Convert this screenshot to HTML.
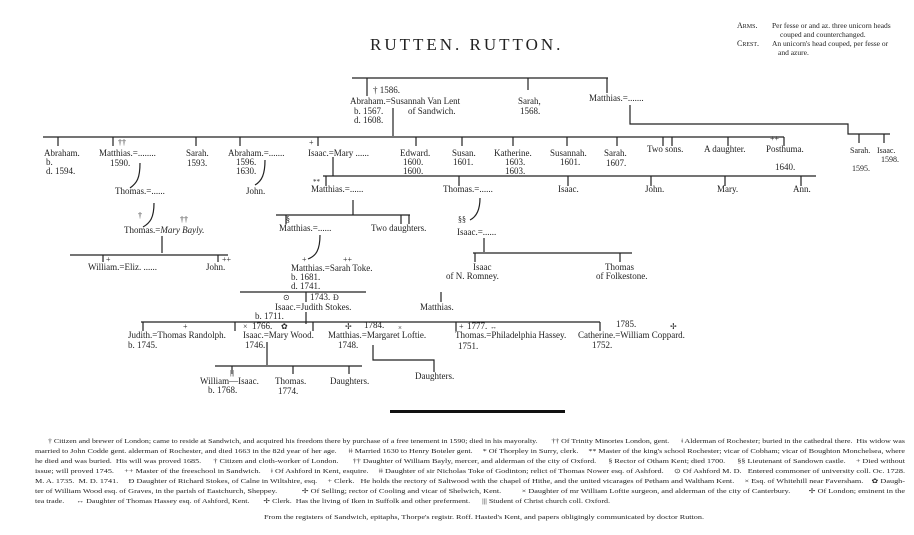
<!DOCTYPE html>
<html><head><meta charset="utf-8"><style>
html,body{margin:0;padding:0;background:#fff;}
svg{display:block;font-family:"Liberation Serif",serif;fill:#222;}
text{font-size:9px;}
.fn text{font-size:6.6px;white-space:pre;}
.sc{font-variant:small-caps;}
</style></head><body>
<svg width="914" height="535" viewBox="0 0 914 535" xmlns="http://www.w3.org/2000/svg">
<g stroke="#222" stroke-width="1.2" fill="none">
<path d="M352 78H608M367 78V96M528 78V90M607 78V93"/>
<path d="M393 108V136"/>
<path d="M43 137H784"/>
<path d="M630 105V124H848V134H890M859 134V143M884 134V143"/>
<path d="M58 137V146M113 137V146M196 137V146M240 137V146M318 137V146M416 137V146M462 137V146M513 137V146M567 137V146M617 137V146M663 137V146M672 137V146M728 137V146M784 137V146"/>
<path d="M333 157V176M323 176H816M326 176V186M459 176V186M568 176V186M651 176V186M725 176V186M801 176V186"/>
<path d="M353 200V215H276M353 215H410M286 215V224M401 215V224M409 215V224"/>
<path d="M320 235C320 250 316 256 308 259"/>
<path d="M240 292H366M306 292V302M441 292V302"/>
<path d="M306 312V324M141 322H600M143 322V331M235 322V331M313 322V331M456 322V331M600 322V331"/>
<path d="M267 342V365M215 366H362M232 366V374M293 366V374M349 366V374"/>
<path d="M373 345V360H434V372"/>
<path d="M140 163C140 178 137 183 130 188"/>
<path d="M154 203C154 218 150 223 143 227"/>
<path d="M162 236V253M70 255H228M103 255V262M218 255V262"/>
<path d="M265 160C265 174 262 181 255 185"/>
<path d="M480 198C480 210 476 217 470 220"/>
<path d="M484 238V252M473 253H632M475 253V262M620 253V262"/>
</g>
<rect x="390" y="410" width="175" height="3" fill="#111"/>
<text x="370" y="50" style="font-size:17px;letter-spacing:3px">RUTTEN. RUTTON.</text>
<g>
<text x="737" y="28" class="sc" style="font-size:8px">Arms.</text><text x="772" y="28" style="font-size:7.5px">Per fesse or and az. three unicorn heads</text>
<text x="780" y="37" style="font-size:7.5px">couped and counterchanged.</text>
<text x="737" y="46" class="sc" style="font-size:8px">Crest.</text><text x="772" y="46" style="font-size:7.5px">An unicorn's head couped, per fesse or</text>
<text x="778" y="55" style="font-size:7.5px">and azure.</text>
</g>
<text x="373" y="93">† 1586.</text>
<text x="350" y="104">Abraham.=Susannah Van Lent</text>
<text x="354" y="114">b. 1567.</text><text x="408" y="114">of Sandwich.</text>
<text x="354" y="123">d. 1608.</text>
<text x="518" y="104">Sarah,</text><text x="520" y="114">1568.</text>
<text x="589" y="101">Matthias.=.......</text>
<text x="44" y="156">Abraham.</text><text x="46" y="165">b.</text><text x="46" y="174">d. 1594.</text>
<text x="99" y="156">Matthias.=........</text><text x="110" y="166">1590.</text>
<text x="186" y="156">Sarah.</text><text x="187" y="166">1593.</text>
<text x="228" y="156">Abraham.=.......</text><text x="236" y="165">1596.</text><text x="236" y="174">1630.</text>
<text x="308" y="156">Isaac.=Mary ......</text>
<text x="400" y="156">Edward.</text><text x="403" y="165">1600.</text><text x="403" y="174">1600.</text>
<text x="452" y="156">Susan.</text><text x="453" y="165">1601.</text>
<text x="494" y="156">Katherine.</text><text x="505" y="165">1603.</text><text x="505" y="174">1603.</text>
<text x="550" y="156">Susannah.</text><text x="560" y="165">1601.</text>
<text x="604" y="156">Sarah.</text><text x="606" y="166">1607.</text>
<text x="647" y="152">Two sons.</text>
<text x="704" y="152">A daughter.</text>
<text x="766" y="152">Posthuma.</text><text x="770" y="141" style="font-size:8px">++</text>
<text x="775" y="170">1640.</text>
<text x="850" y="153" style="font-size:8px">Sarah.</text><text x="877" y="153" style="font-size:8px">Isaac.</text>
<text x="881" y="162" style="font-size:8px">1598.</text><text x="852" y="171" style="font-size:8px">1595.</text>
<text x="118" y="145" style="font-size:8px">††</text><text x="309" y="145" style="font-size:8px">+</text>
<text x="311" y="192">Matthias.=......</text><text x="313" y="184" style="font-size:7px">**</text>
<text x="443" y="192">Thomas.=......</text>
<text x="558" y="192">Isaac.</text><text x="645" y="192">John.</text><text x="717" y="192">Mary.</text><text x="793" y="192">Ann.</text>
<text x="115" y="194">Thomas.=......</text>
<text x="246" y="194">John.</text>
<text x="138" y="218" style="font-size:8px">†</text><text x="180" y="222" style="font-size:8px">††</text>
<text x="124" y="233">Thomas.=<tspan font-style="italic">Mary Bayly.</tspan></text>
<text x="279" y="231">Matthias.=......</text><text x="286" y="222" style="font-size:8px">§</text>
<text x="371" y="231">Two daughters.</text>
<text x="458" y="222" style="font-size:8px">§§</text>
<text x="457" y="235">Isaac.=......</text>
<text x="88" y="270">William.=Eliz. ......</text><text x="106" y="262" style="font-size:8px">+</text>
<text x="206" y="270">John.</text><text x="222" y="262" style="font-size:8px">++</text>
<text x="473" y="270">Isaac</text><text x="446" y="279">of N. Romney.</text>
<text x="605" y="270">Thomas</text><text x="596" y="279">of Folkestone.</text>
<text x="302" y="262" style="font-size:8px">+</text><text x="343" y="262" style="font-size:8px">++</text>
<text x="291" y="271">Matthias.=Sarah Toke.</text><text x="291" y="280">b. 1681.</text><text x="291" y="289">d. 1741.</text>
<text x="283" y="300" style="font-size:8px">⊙</text><text x="310" y="300">1743.</text><text x="333" y="300" style="font-size:8px">Ð</text>
<text x="275" y="310">Isaac.=Judith Stokes.</text>
<text x="420" y="310">Matthias.</text>
<text x="255" y="319">b. 1711.</text>
<text x="128" y="338">Judith.=Thomas Randolph.</text><text x="128" y="348">b. 1745.</text><text x="183" y="329" style="font-size:8px">+</text>
<text x="243" y="329" style="font-size:8px">×</text><text x="252" y="329">1766.</text><text x="281" y="329" style="font-size:8px">✿</text>
<text x="243" y="338">Isaac.=Mary Wood.</text><text x="245" y="348">1746.</text>
<text x="345" y="329" style="font-size:8px">✢</text><text x="364" y="328">1784.</text><text x="398" y="330" style="font-size:7px">×</text>
<text x="328" y="338">Matthias.=Margaret Loftie.</text><text x="338" y="348">1748.</text>
<text x="459" y="329" style="font-size:8px">+</text><text x="467" y="329">1777.</text><text x="490" y="329" style="font-size:7px">↔</text>
<text x="455" y="338">Thomas.=Philadelphia Hassey.</text><text x="458" y="349">1751.</text>
<text x="578" y="338">Catherine.=William Coppard.</text><text x="592" y="348">1752.</text>
<text x="616" y="327">1785.</text><text x="670" y="329" style="font-size:8px">✢</text>
<text x="230" y="375" style="font-size:7px">|||</text>
<text x="200" y="384">William—Isaac.</text><text x="208" y="393">b. 1768.</text>
<text x="275" y="384">Thomas.</text><text x="278" y="394">1774.</text>
<text x="330" y="384">Daughters.</text>
<text x="415" y="379">Daughters.</text>
<g class="fn">
<text x="48" y="443" textLength="857" lengthAdjust="spacingAndGlyphs">† Citizen and brewer of London; came to reside at Sandwich, and acquired his freedom there by purchase of a free tenement in 1590; died in his mayoralty.       †† Of Trinity Minories London, gent.      ǂ Alderman of Rochester; buried in the cathedral there.  His widow was</text>
<text x="35" y="453" textLength="870" lengthAdjust="spacingAndGlyphs">married to John Codde gent. alderman of Rochester, and died 1663 in the 82d year of her age.      ǂǂ Married 1630 to Henry Boteler gent.     * Of Thorpley in Surry, clerk.     ** Master of the king's school Rochester; vicar of Cobham; vicar of Boughton Monchelsea, where</text>
<text x="35" y="463" textLength="870" lengthAdjust="spacingAndGlyphs">he died and was buried.  His will was proved 1685.      † Citizen and cloth-worker of London.       †† Daughter of William Bayly, mercer, and alderman of the city of Oxford.      § Rector of Otham Kent; died 1700.      §§ Lieutenant of Sandown castle.     + Died without</text>
<text x="35" y="473" textLength="870" lengthAdjust="spacingAndGlyphs">issue; will proved 1745.     ++ Master of the freeschool in Sandwich.     ǂ Of Ashford in Kent, esquire.     ǂǂ Daughter of sir Nicholas Toke of Godinton; relict of Thomas Nower esq. of Ashford.     ⊙ Of Ashford M. D.   Entered commoner of university coll. Oc. 1728.</text>
<text x="35" y="483" textLength="870" lengthAdjust="spacingAndGlyphs">M. A. 1735.  M. D. 1741.     Ð Daughter of Richard Stokes, of Calne in Wiltshire, esq.     + Clerk.   He holds the rectory of Saltwood with the chapel of Hithe, and the united vicarages of Petham and Waltham Kent.     × Esq. of Whitehill near Faversham.    ✿ Daugh-</text>
<text x="35" y="493" textLength="870" lengthAdjust="spacingAndGlyphs">ter of William Wood esq. of Graves, in the parish of Eastchurch, Sheppey.            ✢ Of Selling; rector of Cooling and vicar of Shelwich, Kent.          × Daughter of mr William Loftie surgeon, and alderman of the city of Canterbury.         ✢ Of London; eminent in the</text>
<text x="35" y="503" textLength="575" lengthAdjust="spacingAndGlyphs">tea trade.      ↔ Daughter of Thomas Hassey esq. of Ashford, Kent.       ✢ Clerk.  Has the living of Iken in Suffolk and other preferment.      ||| Student of Christ church coll. Oxford.</text>
<text x="264" y="519" textLength="440" lengthAdjust="spacingAndGlyphs">From the registers of Sandwich, epitaphs, Thorpe's registr. Roff. Hasted's Kent, and papers obligingly communicated by doctor Rutton.</text>
</g>
</svg>
</body></html>
